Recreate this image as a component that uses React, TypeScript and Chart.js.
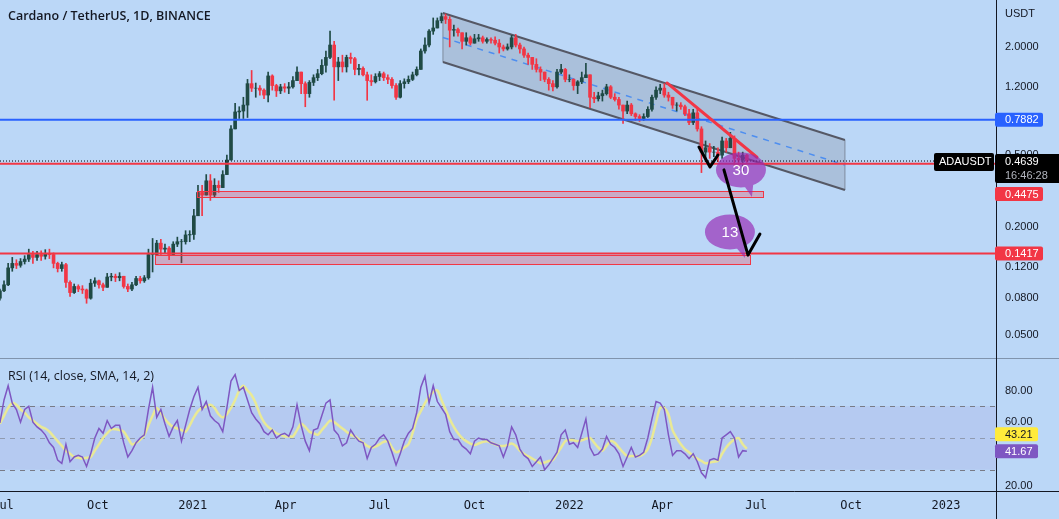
import React, { useEffect, useRef } from 'react';
import { Chart, registerables } from 'chart.js';
Chart.register(...registerables);

// ---------- DATA ----------
// 4-day candles; day 0 = 2020-07-01
const START_DAY = -3;
const CANDLE_DAYS = 4;
const FIRST_OPEN = 0.080;

const closes = [
  0.088, 0.095, 0.118, 0.125, 0.122, 0.128, 0.132, 0.140, 0.135, 0.140,
  0.137, 0.142, 0.140, 0.125, 0.117, 0.123, 0.098, 0.086, 0.093, 0.090,
  0.089, 0.080, 0.097, 0.100, 0.095, 0.092, 0.105, 0.106, 0.104, 0.106,
  0.093, 0.090, 0.095, 0.103, 0.100, 0.104, 0.140, 0.140, 0.162, 0.150,
  0.152, 0.140, 0.160, 0.165, 0.165, 0.180, 0.181, 0.23, 0.31, 0.30,
  0.36, 0.30, 0.34, 0.33, 0.39, 0.47, 0.70, 0.87, 0.88, 0.95,
  1.25, 1.18, 1.18, 1.15, 1.08, 1.38, 1.22, 1.14, 1.20, 1.18,
  1.20, 1.30, 1.45, 1.25, 1.10, 1.27, 1.35, 1.42, 1.58, 1.75,
  2.05, 1.55, 1.65, 1.55, 1.75, 1.72, 1.50, 1.52, 1.40, 1.30,
  1.28, 1.37, 1.42, 1.35, 1.32, 1.22, 1.05, 1.25, 1.28, 1.32,
  1.40, 1.50, 1.90, 2.05, 2.45, 2.55, 2.80, 2.95, 2.85, 2.48,
  2.50, 2.40, 2.15, 2.25, 2.10, 2.22, 2.25, 2.15, 2.20, 2.18,
  2.10, 2.00, 1.95, 2.00, 2.25, 2.05, 1.95, 1.80, 1.75, 1.60,
  1.50, 1.45, 1.32, 1.25, 1.20, 1.45, 1.50, 1.32, 1.32, 1.22,
  1.28, 1.35, 1.40, 1.05, 1.03, 1.07, 1.10, 1.20, 1.05, 1.02,
  0.95, 0.88, 0.95, 0.85, 0.82, 0.80, 0.82, 0.90, 1.05, 1.15,
  1.18, 1.08, 1.05, 0.95, 0.95, 0.93, 0.85, 0.76, 0.86, 0.70,
  0.52, 0.55, 0.52, 0.52, 0.50, 0.60, 0.55, 0.62, 0.48, 0.47,
  0.50, 0.4639,
];

const highs = [
  0.090, 0.100, 0.125, 0.135, 0.131, 0.133, 0.138, 0.150, 0.146, 0.146,
  0.147, 0.149, 0.150, 0.143, 0.127, 0.127, 0.125, 0.100, 0.096, 0.095,
  0.094, 0.090, 0.102, 0.104, 0.101, 0.097, 0.110, 0.110, 0.109, 0.111,
  0.106, 0.096, 0.098, 0.106, 0.106, 0.107, 0.150, 0.172, 0.168, 0.170,
  0.160, 0.155, 0.165, 0.175, 0.170, 0.190, 0.190, 0.25, 0.34, 0.34,
  0.39, 0.39, 0.37, 0.36, 0.41, 0.50, 0.73, 0.97, 0.93, 1.05,
  1.32, 1.48, 1.26, 1.22, 1.17, 1.45, 1.40, 1.24, 1.24, 1.25,
  1.27, 1.37, 1.55, 1.45, 1.28, 1.30, 1.40, 1.50, 1.70, 1.90,
  2.45, 2.15, 1.75, 1.80, 1.80, 1.85, 1.75, 1.60, 1.55, 1.45,
  1.40, 1.42, 1.46, 1.45, 1.40, 1.35, 1.25, 1.30, 1.33, 1.38,
  1.45, 1.55, 1.95, 2.25, 2.50, 2.90, 2.90, 3.09, 3.05, 2.95,
  2.65, 2.55, 2.40, 2.40, 2.30, 2.35, 2.35, 2.30, 2.25, 2.25,
  2.28, 2.20, 2.05, 2.08, 2.32, 2.35, 2.10, 2.00, 1.85, 1.75,
  1.72, 1.55, 1.45, 1.35, 1.30, 1.50, 1.60, 1.52, 1.40, 1.33,
  1.30, 1.45, 1.62, 1.40, 1.12, 1.12, 1.15, 1.24, 1.22, 1.10,
  1.05, 0.95, 1.00, 0.97, 0.86, 0.84, 0.85, 0.93, 1.08, 1.20,
  1.24, 1.25, 1.12, 1.05, 0.98, 0.98, 0.95, 0.90, 0.90, 0.90,
  0.72, 0.60, 0.58, 0.56, 0.55, 0.63, 0.62, 0.67, 0.64, 0.52,
  0.52, 0.505,
];

const lows = [
  0.078, 0.087, 0.094, 0.113, 0.117, 0.119, 0.124, 0.128, 0.125, 0.130,
  0.130, 0.132, 0.133, 0.118, 0.112, 0.113, 0.092, 0.082, 0.085, 0.087,
  0.085, 0.075, 0.079, 0.093, 0.091, 0.088, 0.092, 0.100, 0.099, 0.100,
  0.091, 0.087, 0.088, 0.094, 0.097, 0.098, 0.102, 0.112, 0.138, 0.140,
  0.143, 0.131, 0.140, 0.155, 0.126, 0.160, 0.165, 0.17, 0.23, 0.23,
  0.30, 0.28, 0.29, 0.31, 0.33, 0.39, 0.47, 0.70, 0.80, 0.80,
  0.81, 1.13, 1.05, 1.08, 1.03, 0.99, 1.15, 1.06, 1.10, 1.12,
  1.10, 1.18, 1.30, 1.10, 0.93, 1.05, 1.22, 1.30, 1.40, 1.45,
  1.72, 1.01, 1.30, 1.45, 1.45, 1.62, 1.40, 1.40, 1.38, 1.01,
  1.22, 1.26, 1.30, 1.30, 1.25, 1.18, 1.02, 1.04, 1.18, 1.25,
  1.30, 1.38, 1.50, 1.85, 2.00, 2.35, 2.55, 2.72, 2.70, 2.00,
  2.30, 2.30, 1.95, 2.05, 2.05, 2.10, 2.15, 2.10, 2.10, 2.10,
  2.05, 1.85, 1.90, 1.92, 1.95, 2.00, 1.85, 1.75, 1.60, 1.50,
  1.45, 1.30, 1.28, 1.15, 1.14, 1.18, 1.42, 1.28, 1.28, 1.15,
  1.10, 1.25, 1.35, 0.92, 0.98, 1.00, 1.00, 1.08, 1.03, 1.00,
  0.90, 0.75, 0.85, 0.83, 0.78, 0.77, 0.78, 0.81, 0.88, 1.02,
  1.10, 1.05, 1.00, 0.91, 0.88, 0.90, 0.83, 0.74, 0.74, 0.68,
  0.40, 0.46, 0.48, 0.49, 0.46, 0.48, 0.52, 0.55, 0.44, 0.43,
  0.41, 0.455,
];

const rsiValues = [
  59.5, 74, 83, 72, 68, 60, 68, 70, 60, 57,
  55, 52, 47, 44, 36, 34, 46, 35, 38, 39,
  38, 32, 40, 50, 56, 53, 61, 56, 58, 58,
  47, 38, 42, 47, 50, 52, 68, 82, 63, 68,
  59, 51, 57, 61, 48, 58, 68, 76, 82, 68,
  73, 64, 61, 59, 54, 69, 86, 90, 80, 82,
  74, 66, 62, 59, 54, 52, 55, 50, 52, 53,
  51, 57, 71, 58, 48, 42, 55, 56, 64, 72,
  74, 55, 52, 45, 47, 55, 51, 48, 47, 37,
  44, 46, 50, 52, 48, 41, 33, 40, 48, 53,
  56, 66, 82, 89, 72, 83, 73, 69, 65, 54,
  49, 49, 45, 43, 40, 48, 50, 49, 49, 47,
  46, 45, 38, 45, 57, 52, 43, 39, 37, 32,
  35, 38, 30, 33, 37, 41, 52, 55, 46, 47,
  44, 53, 62, 44, 39, 40, 43, 51, 46, 44,
  40, 32, 38, 44, 38, 39, 41, 50, 62, 73,
  72, 68, 52, 39, 42, 42, 40, 37, 40, 35,
  28, 25, 36, 37, 36, 50, 52, 54, 50, 38,
  42, 41.67,
];

const rsiSmaValues = [
  59, 64, 69, 72, 71, 68, 66, 63, 61, 59,
  57, 56, 54, 51, 48, 45, 42, 40, 38, 37.5,
  37, 37.5, 38, 42, 46, 50, 53, 55.5, 55.5, 55,
  54, 50, 46, 47, 49, 52, 58, 64, 69, 66,
  62, 59, 57, 56, 55, 54, 58, 63, 67, 69,
  70, 71, 69, 65, 63, 65, 69, 74, 80, 83,
  80, 77, 72, 65, 60, 57, 55, 53, 52, 51,
  51, 51, 55, 59, 57, 54, 53, 52, 55, 58,
  61, 60, 58, 56, 54, 52, 51, 49, 47, 45,
  44, 44.5, 46, 47.5, 48, 44, 41, 42, 44, 46,
  53, 62, 67, 72, 76, 79, 80, 74, 68, 62,
  57, 53, 50, 48, 46.5, 45.5, 46.5, 47.5, 48, 47,
  46, 45, 45, 45.5, 46.5, 45, 42, 40, 38.5, 37,
  35.5, 34, 34.5, 35.5, 36, 40, 44, 48, 48.7, 48.5,
  48, 48.5, 49.5, 50, 47, 44, 42, 45, 48, 47,
  44, 41, 38.6, 38.6, 38.6, 38.6, 40, 43, 50, 60,
  69, 69, 65, 55, 50, 46, 43, 41, 38.6, 37,
  35.5, 34, 34.5, 35, 35.5, 40, 44, 47, 49, 50,
  46, 43.21,
];

const timeTickDays = [0, 92, 184, 274, 365, 457, 549, 639, 730, 822, 914];
const timeTickLabels = ['Jul', 'Oct', '2021', 'Apr', 'Jul', 'Oct', '2022', 'Apr', 'Jul', 'Oct', '2023'];
const priceTicks = [0.05, 0.08, 0.12, 0.2, 0.5, 1.2, 2.0];
const rsiTicks = [20, 40, 60, 80];
const dayRange = [-2.9, 962.5];
const priceRange = [0.0372, 3.65];
const rsiRange = [15.9, 100.5];

const levelBlue = 0.7882;
const levelRedUpper = 0.4475;
const levelRedLower = 0.1417;
const lastPrice = 0.4639;
const lastRsi = 41.67;
const lastRsiSma = 43.21;
const countdown = '16:46:28';
const symbol = 'ADAUSDT';
const title = 'Cardano / TetherUS, 1D, BINANCE';
const rsiTitle = 'RSI (14, close, SMA, 14, 2)';
const currency = 'USDT';

// drawings in (day, price)
const channelUpper = [[426.4, 3.09], [816.1, 0.607]];
const channelLower = [[426.4, 1.65], [816.1, 0.320]];
const trendRed = [[643.6, 1.261], [730.8, 0.487]];
const checkStroke = [[674.6, 0.555], [685.3, 0.430], [693.0, 0.501]];
const arrowStroke = [[698.8, 0.414], [722.1, 0.139], [733.7, 0.182]];
const zoneUpper = [188.0, 736.6, 0.293, 0.316];
const zoneLower = [147.3, 724.0, 0.124, 0.1393];
const bubbleLabels = ['30', '13'];
const bubbleCenters = [[715.3, 0.414], [704.6, 0.187]];
const bubbleTips = [[725.9, 0.293], [719.2, 0.134]];

// ---------- STYLE ----------
const BG = 'rgb(187,215,247)';
const UP = '#1f4a45';
const DOWN = '#f23645';
const TEXT = '#131722';
const AXIS_FONT = '"Liberation Sans", Arial, sans-serif';

function roundRect(ctx: CanvasRenderingContext2D, x: number, y: number, w: number, h: number, r: number) {
  ctx.beginPath();
  ctx.moveTo(x + r, y);
  ctx.lineTo(x + w - r, y);
  ctx.quadraticCurveTo(x + w, y, x + w, y + r);
  ctx.lineTo(x + w, y + h - r);
  ctx.quadraticCurveTo(x + w, y + h, x + w - r, y + h);
  ctx.lineTo(x + r, y + h);
  ctx.quadraticCurveTo(x, y + h, x, y + h - r);
  ctx.lineTo(x, y + r);
  ctx.quadraticCurveTo(x, y, x + r, y);
  ctx.closePath();
}

const overlayPlugin = {
  id: 'overlay',
  beforeDraw(chart: any) {
    const ctx = chart.ctx;
    ctx.save();
    ctx.fillStyle = BG;
    ctx.fillRect(0, 0, chart.width, chart.height);
    ctx.restore();
  },
  beforeDatasetsDraw(chart: any) {
    const ctx: CanvasRenderingContext2D = chart.ctx;
    const xs = chart.scales.x, ys = chart.scales.y, rs = chart.scales.yR;
    const L = chart.chartArea.left, Rt = chart.chartArea.right;
    ctx.save();
    // RSI band
    const y70 = rs.getPixelForValue(70), y30 = rs.getPixelForValue(30), y50 = rs.getPixelForValue(50);
    ctx.fillStyle = 'rgba(126,87,194,0.10)';
    ctx.fillRect(L, y70, Rt - L, y30 - y70);
    ctx.lineWidth = 1;
    ctx.setLineDash([5, 5]);
    ctx.strokeStyle = '#787b86';
    [y70, y30].forEach((yy) => {
      ctx.beginPath(); ctx.moveTo(L, Math.round(yy) + 0.5); ctx.lineTo(Rt, Math.round(yy) + 0.5); ctx.stroke();
    });
    ctx.strokeStyle = 'rgba(120,123,134,0.6)';
    ctx.beginPath(); ctx.moveTo(L, Math.round(y50) + 0.5); ctx.lineTo(Rt, Math.round(y50) + 0.5); ctx.stroke();
    ctx.setLineDash([]);

    // channel
    const p = (pt: number[]) => [xs.getPixelForValue(pt[0]), ys.getPixelForValue(pt[1])];
    const u0 = p(channelUpper[0]), u1 = p(channelUpper[1]);
    const l0 = p(channelLower[0]), l1 = p(channelLower[1]);
    ctx.beginPath();
    ctx.moveTo(u0[0], u0[1]); ctx.lineTo(u1[0], u1[1]); ctx.lineTo(l1[0], l1[1]); ctx.lineTo(l0[0], l0[1]); ctx.closePath();
    ctx.fillStyle = 'rgba(120,123,134,0.25)';
    ctx.fill();
    ctx.strokeStyle = 'rgba(93,96,107,0.6)';
    ctx.lineWidth = 1;
    ctx.beginPath(); ctx.moveTo(u0[0], u0[1]); ctx.lineTo(l0[0], l0[1]); ctx.stroke();
    ctx.beginPath(); ctx.moveTo(u1[0], u1[1]); ctx.lineTo(l1[0], l1[1]); ctx.stroke();
    ctx.strokeStyle = '#555865';
    ctx.lineWidth = 2;
    ctx.beginPath(); ctx.moveTo(u0[0], u0[1]); ctx.lineTo(u1[0], u1[1]); ctx.stroke();
    ctx.beginPath(); ctx.moveTo(l0[0], l0[1]); ctx.lineTo(l1[0], l1[1]); ctx.stroke();
    // mid dashed
    ctx.strokeStyle = '#4d8ef0';
    ctx.lineWidth = 1.5;
    ctx.setLineDash([6, 6]);
    ctx.beginPath();
    ctx.moveTo((u0[0] + l0[0]) / 2, (u0[1] + l0[1]) / 2);
    ctx.lineTo((u1[0] + l1[0]) / 2, (u1[1] + l1[1]) / 2);
    ctx.stroke();
    ctx.setLineDash([]);
    ctx.restore();
  },
  afterDatasetsDraw(chart: any) {
    const ctx: CanvasRenderingContext2D = chart.ctx;
    const xs = chart.scales.x, ys = chart.scales.y;
    const L = chart.chartArea.left, Rt = chart.chartArea.right;
    const P = (pt: number[]) => [xs.getPixelForValue(pt[0]), ys.getPixelForValue(pt[1])];
    ctx.save();
    // zones
    [zoneUpper, zoneLower].forEach((z) => {
      const x0 = xs.getPixelForValue(z[0]), x1 = xs.getPixelForValue(z[1]);
      const yTop = ys.getPixelForValue(z[3]), yBot = ys.getPixelForValue(z[2]);
      ctx.fillStyle = 'rgba(242,54,69,0.28)';
      ctx.fillRect(x0, yTop, x1 - x0, yBot - yTop);
      ctx.strokeStyle = '#f23645';
      ctx.lineWidth = 1;
      ctx.strokeRect(Math.round(x0) + 0.5, Math.round(yTop) + 0.5, Math.round(x1 - x0), Math.round(yBot - yTop));
    });
    // horizontal levels
    const hline = (v: number, color: string, w: number, x1: number, dash: number[] = []) => {
      const yy = ys.getPixelForValue(v);
      ctx.strokeStyle = color; ctx.lineWidth = w; ctx.setLineDash(dash);
      ctx.beginPath(); ctx.moveTo(L, yy); ctx.lineTo(x1, yy); ctx.stroke();
      ctx.setLineDash([]);
    };
    hline(levelBlue, '#2962ff', 2, Rt);
    hline(levelRedUpper, '#f23645', 2, Rt);
    hline(levelRedLower, '#f23645', 2, Rt);
    hline(lastPrice, '#000000', 1, 934, [1, 2]);

    // red trendline
    const t0 = P(trendRed[0]), t1 = P(trendRed[1]);
    ctx.strokeStyle = '#f23645'; ctx.lineWidth = 3; ctx.lineCap = 'round';
    ctx.beginPath(); ctx.moveTo(t0[0], t0[1]); ctx.lineTo(t1[0], t1[1]); ctx.stroke();

    // bubbles
    bubbleLabels.forEach((txt, i) => {
      const c = P(bubbleCenters[i]);
      const t = P(bubbleTips[i]);
      const rx = 25, ry = 17.5;
      const a = Math.atan2(t[1] - c[1], t[0] - c[0]);
      ctx.beginPath();
      ctx.ellipse(c[0], c[1], rx, ry, 0, 0, Math.PI * 2);
      ctx.moveTo(c[0] + rx * 0.8 * Math.cos(a - 0.3), c[1] + ry * 0.8 * Math.sin(a - 0.3));
      ctx.lineTo(t[0], t[1]);
      ctx.lineTo(c[0] + rx * 0.8 * Math.cos(a + 0.3), c[1] + ry * 0.8 * Math.sin(a + 0.3));
      ctx.closePath();
      ctx.fillStyle = 'rgba(150,40,180,0.66)';
      ctx.fill('nonzero');
      ctx.fillStyle = '#ffffff';
      ctx.font = '15px "Liberation Sans", Arial, sans-serif';
      ctx.textAlign = 'center'; ctx.textBaseline = 'middle';
      ctx.fillText(txt, c[0], c[1] + 1);
    });

    // black strokes
    ctx.strokeStyle = '#000000'; ctx.lineWidth = 3; ctx.lineJoin = 'round'; ctx.lineCap = 'round';
    [checkStroke, arrowStroke].forEach((s) => {
      ctx.beginPath();
      s.forEach((pt, k) => { const q = P(pt); if (k === 0) ctx.moveTo(q[0], q[1]); else ctx.lineTo(q[0], q[1]); });
      ctx.stroke();
    });
    ctx.restore();
  },
  afterDraw(chart: any) {
    const ctx: CanvasRenderingContext2D = chart.ctx;
    const ys = chart.scales.y, rs = chart.scales.yR;
    const Rt = chart.chartArea.right;
    const bottom = chart.chartArea.bottom;
    const paneSplit = ys.bottom;
    ctx.save();
    // borders
    ctx.strokeStyle = TEXT; ctx.lineWidth = 1;
    ctx.beginPath(); ctx.moveTo(Math.round(Rt) + 0.5, 0); ctx.lineTo(Math.round(Rt) + 0.5, chart.height); ctx.stroke();
    ctx.beginPath(); ctx.moveTo(0, Math.round(bottom) - 0.5); ctx.lineTo(chart.width, Math.round(bottom) - 0.5); ctx.stroke();
    ctx.strokeStyle = 'rgba(19,23,34,0.35)';
    ctx.beginPath(); ctx.moveTo(0, Math.round(paneSplit) + 0.5); ctx.lineTo(chart.width, Math.round(paneSplit) + 0.5); ctx.stroke();

    // titles
    ctx.fillStyle = TEXT;
    ctx.textAlign = 'left'; ctx.textBaseline = 'middle';
    ctx.font = '600 12.5px "Open Sans", sans-serif';
    ctx.fillText(title, 8, 16);
    ctx.font = '12.5px "Open Sans", sans-serif';
    ctx.fillText(rsiTitle, 8, paneSplit + 18);

    // axis caption
    ctx.font = '11px ' + AXIS_FONT;
    ctx.fillText(currency, Rt + 9, 14);

    const boxX = Rt - 1;
    const tag = (text: string, yc: number, bg: string, fg: string, w = 48) => {
      ctx.fillStyle = bg;
      roundRect(ctx, boxX, yc - 7, w, 14, 2); ctx.fill();
      ctx.fillStyle = fg; ctx.font = '11px ' + AXIS_FONT;
      ctx.textAlign = 'left'; ctx.textBaseline = 'middle';
      ctx.fillText(text, Rt + 9, yc + 0.5);
    };
    tag(levelBlue.toFixed(4), ys.getPixelForValue(levelBlue), '#2962ff', '#ffffff');
    tag(levelRedLower.toFixed(4), ys.getPixelForValue(levelRedLower), '#f23645', '#ffffff');

    // last price box
    const yl = ys.getPixelForValue(lastPrice);
    ctx.fillStyle = '#000000';
    roundRect(ctx, boxX, yl - 7, chart.width - boxX + 3, 29, 2); ctx.fill();
    ctx.fillStyle = '#ffffff'; ctx.font = '11px ' + AXIS_FONT;
    ctx.fillText(lastPrice.toFixed(4), Rt + 9, yl + 0.5);
    ctx.fillStyle = '#b2b5be';
    ctx.fillText(countdown, Rt + 9, yl + 14.5);
    tag(levelRedUpper.toFixed(4), yl + 33, '#f23645', '#ffffff');

    // symbol tag
    ctx.fillStyle = '#000000';
    roundRect(ctx, 934, yl - 8, 60, 18, 2); ctx.fill();
    ctx.fillStyle = '#ffffff'; ctx.font = '11px ' + AXIS_FONT;
    ctx.textAlign = 'left';
    ctx.fillText(symbol, 939, yl + 1);

    // RSI tags
    const yr = rs.getPixelForValue(lastRsi);
    tag(lastRsi.toFixed(2), yr, '#7e57c2', '#ffffff', 43);
    tag(lastRsiSma.toFixed(2), yr - 17, '#ffeb3b', TEXT, 43);
    ctx.restore();
  },
};

export default function App() {
  const ref = useRef<HTMLCanvasElement>(null);
  useEffect(() => {
    const canvas = ref.current;
    if (!canvas) return;
    const days = closes.map((_, i) => START_DAY + i * CANDLE_DAYS);
    const opens = closes.map((_, i) => (i === 0 ? FIRST_OPEN : closes[i - 1]));
    const colors = closes.map((c, i) => (c >= opens[i] ? UP : DOWN));
    const chart = new Chart(canvas, {
      type: 'bar',
      data: {
        datasets: [
          {
            type: 'bar',
            label: 'body',
            data: days.map((d, i) => ({ x: d, y: [opens[i], closes[i]] })) as any,
            backgroundColor: colors,
            barThickness: 3,
            grouped: false,
            xAxisID: 'x',
            yAxisID: 'y',
          } as any,
          {
            type: 'bar',
            label: 'wick',
            data: days.map((d, i) => ({
              x: d,
              y: [Math.min(lows[i], opens[i], closes[i]), Math.max(highs[i], opens[i], closes[i])],
            })) as any,
            backgroundColor: colors,
            barThickness: 1,
            grouped: false,
            xAxisID: 'x',
            yAxisID: 'y',
          } as any,
          {
            type: 'line',
            label: 'RSI',
            data: days.map((d, i) => ({ x: d, y: rsiValues[i] })),
            borderColor: '#7e57c2',
            borderWidth: 1.5,
            pointRadius: 0,
            tension: 0,
            xAxisID: 'x',
            yAxisID: 'yR',
          } as any,
          {
            type: 'line',
            label: 'RSI SMA',
            data: days.map((d, i) => ({ x: d, y: rsiSmaValues[i] })),
            borderColor: 'rgba(238,236,140,0.9)',
            borderWidth: 2.5,
            pointRadius: 0,
            tension: 0.3,
            xAxisID: 'x',
            yAxisID: 'yR',
          } as any,
        ],
      },
      options: {
        responsive: false,
        animation: false,
        devicePixelRatio: 1,
        events: [],
        layout: { padding: 0 },
        plugins: { legend: { display: false }, tooltip: { enabled: false }, title: { display: false } },
        scales: {
          x: {
            type: 'linear',
            min: dayRange[0],
            max: dayRange[1],
            offset: false,
            bounds: 'data',
            grid: { display: false, offset: false, drawTicks: false },
            border: { display: false },
            afterBuildTicks: (s: any) => { s.ticks = timeTickDays.map((v) => ({ value: v })); },
            afterFit: (s: any) => { s.height = 27; s.paddingLeft = 0; s.paddingRight = 0; },
            ticks: {
              autoSkip: false,
              maxRotation: 0,
              minRotation: 0,
              padding: 7,
              color: TEXT,
              font: { family: '"DejaVu Sans Mono", monospace', size: 12 },
              callback: (v: any) => timeTickLabels[timeTickDays.indexOf(Number(v))] ?? '',
            },
          },
          y: {
            type: 'logarithmic',
            position: 'right',
            stack: 'panes',
            stackWeight: 358,
            min: priceRange[0],
            max: priceRange[1],
            bounds: 'data',
            grid: { display: false, drawTicks: false },
            border: { display: false },
            afterBuildTicks: (s: any) => { s.ticks = priceTicks.map((v) => ({ value: v })); },
            afterFit: (s: any) => { s.width = 63; s.paddingTop = 0; s.paddingBottom = 0; },
            ticks: {
              autoSkip: false,
              padding: 9,
              color: TEXT,
              font: { family: AXIS_FONT, size: 11 },
              callback: (v: any) => Number(v).toFixed(4),
            },
          },
          yR: {
            type: 'linear',
            position: 'right',
            stack: 'panes',
            stackWeight: 134,
            min: rsiRange[0],
            max: rsiRange[1],
            bounds: 'data',
            grid: { display: false, drawTicks: false },
            border: { display: false },
            afterBuildTicks: (s: any) => { s.ticks = rsiTicks.map((v) => ({ value: v })); },
            afterFit: (s: any) => { s.width = 63; s.paddingTop = 0; s.paddingBottom = 0; },
            ticks: {
              autoSkip: false,
              padding: 9,
              color: TEXT,
              font: { family: AXIS_FONT, size: 11 },
              callback: (v: any) => Number(v).toFixed(2),
            },
          },
        } as any,
      },
      plugins: [overlayPlugin],
    } as any);
    return () => chart.destroy();
  }, []);

  return (
    <div style={{ position: 'fixed', left: 0, top: 0, width: 1059, height: 519, background: BG, overflow: 'hidden' }}>
      <canvas ref={ref} width={1059} height={519} style={{ display: 'block', width: 1059, height: 519 }} />
    </div>
  );
}
